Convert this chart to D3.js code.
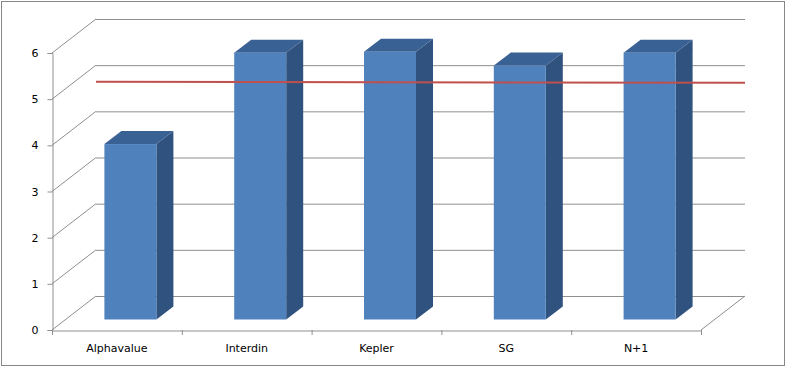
<!DOCTYPE html>
<html>
<head>
<meta charset="utf-8">
<script src="https://cdn.jsdelivr.net/npm/d3@7"></script>
<style>
  body { margin: 0; background: #fff; }
  svg { display: block; }
</style>
</head>
<body>
<svg width="787" height="368"></svg>
<script>
// data
var categories = ['Alphavalue', 'Interdin', 'Kepler', 'SG', 'N+1'];
var values = [3.8, 5.78, 5.8, 5.5, 5.78];
var target = 5.15;
var yTicks = [0, 1, 2, 3, 4, 5, 6];

var svg = d3.select('svg');

// outer frame
svg.append('rect')
    .attr('x', 1.5).attr('y', 1.5)
    .attr('width', 783).attr('height', 364)
    .attr('fill', '#fff')
    .attr('stroke', '#878787');

// front plane scales
var scaleX = d3.scaleBand().domain(categories).range([52, 701]);
var scaleY = d3.scaleLinear().domain([0, 6]).range([330, 53]);

// depth of the box and of the bars
var depthX = 44, depthY = -34;
var barFrontX = 13.5, barFrontY = -10.5;
var barDepthX = 17, barDepthY = -13;
var barW = 52;

var grid = '#8f8f8f';

// back wall gridlines
svg.selectAll('line.back')
    .data(yTicks)
    .enter()
    .append('line')
    .attr('x1', 52 + depthX)
    .attr('x2', 701 + depthX)
    .attr('y1', function(d){ return scaleY(d) + depthY + 0.5; })
    .attr('y2', function(d){ return scaleY(d) + depthY + 0.5; })
    .attr('stroke', grid);

// left wall lines
svg.selectAll('line.side')
    .data(yTicks)
    .enter()
    .append('line')
    .attr('x1', 52)
    .attr('y1', function(d){ return scaleY(d); })
    .attr('x2', 52 + depthX)
    .attr('y2', function(d){ return scaleY(d) + depthY; })
    .attr('stroke', grid);

// floor right edge
svg.append('line')
    .attr('x1', 701).attr('y1', 330)
    .attr('x2', 701 + depthX).attr('y2', 330 + depthY)
    .attr('stroke', grid);

// bars
var bars = svg.selectAll('g.bar')
    .data(values)
    .enter()
    .append('g');

function barLeft(i){
    return scaleX(categories[i]) + (scaleX.bandwidth() - barW) / 2 + barFrontX;
}
function barTop(d){
    return scaleY(d) + barFrontY;
}
var barBottom = scaleY(0) + barFrontY;

// side face
bars.append('path')
    .attr('d', function(d, i){
        var x = barLeft(i) + barW, t = barTop(d);
        return 'M' + x + ',' + t +
            'L' + (x + barDepthX) + ',' + (t + barDepthY) +
            'L' + (x + barDepthX) + ',' + (barBottom + barDepthY) +
            'L' + x + ',' + barBottom + 'Z';
    })
    .attr('fill', '#30527f');

// top face
bars.append('path')
    .attr('d', function(d, i){
        var x = barLeft(i), t = barTop(d);
        return 'M' + x + ',' + t +
            'L' + (x + barDepthX) + ',' + (t + barDepthY) +
            'L' + (x + barW + barDepthX) + ',' + (t + barDepthY) +
            'L' + (x + barW) + ',' + t + 'Z';
    })
    .attr('fill', '#3a6194');

// front face
bars.append('rect')
    .attr('x', function(d, i){ return barLeft(i); })
    .attr('y', function(d){ return barTop(d); })
    .attr('width', barW)
    .attr('height', function(d){ return barBottom - barTop(d); })
    .attr('fill', '#4f81bd');

// target line
svg.append('line')
    .attr('x1', 52 + depthX)
    .attr('x2', 701 + depthX)
    .attr('y1', scaleY(target) + barFrontY)
    .attr('y2', scaleY(target) + barFrontY + 1)
    .attr('stroke', '#c0504d')
    .attr('stroke-width', 2);

// axes
svg.append('g')
    .attr('transform', 'translate(52.5,0)')
    .call(d3.axisLeft(scaleY).tickValues(yTicks).tickFormat(d3.format('d')).tickSize(5).tickPadding(9));

svg.append('g')
    .attr('transform', 'translate(0,330.5)')
    .call(d3.axisBottom(scaleX).tickSize(0).tickPadding(14));

// category boundary ticks
svg.selectAll('line.ctick')
    .data(d3.range(categories.length + 1))
    .enter()
    .append('line')
    .attr('x1', function(i){ return 52.5 + i * scaleX.step(); })
    .attr('x2', function(i){ return 52.5 + i * scaleX.step(); })
    .attr('y1', 330)
    .attr('y2', 335)
    .attr('stroke', grid);

svg.selectAll('.domain').attr('stroke', grid);
svg.selectAll('.tick line').attr('stroke', grid);
svg.selectAll('.tick text')
    .attr('font-family', 'DejaVu Sans, sans-serif')
    .attr('font-size', 11)
    .attr('fill', '#000');
</script>
</body>
</html>
